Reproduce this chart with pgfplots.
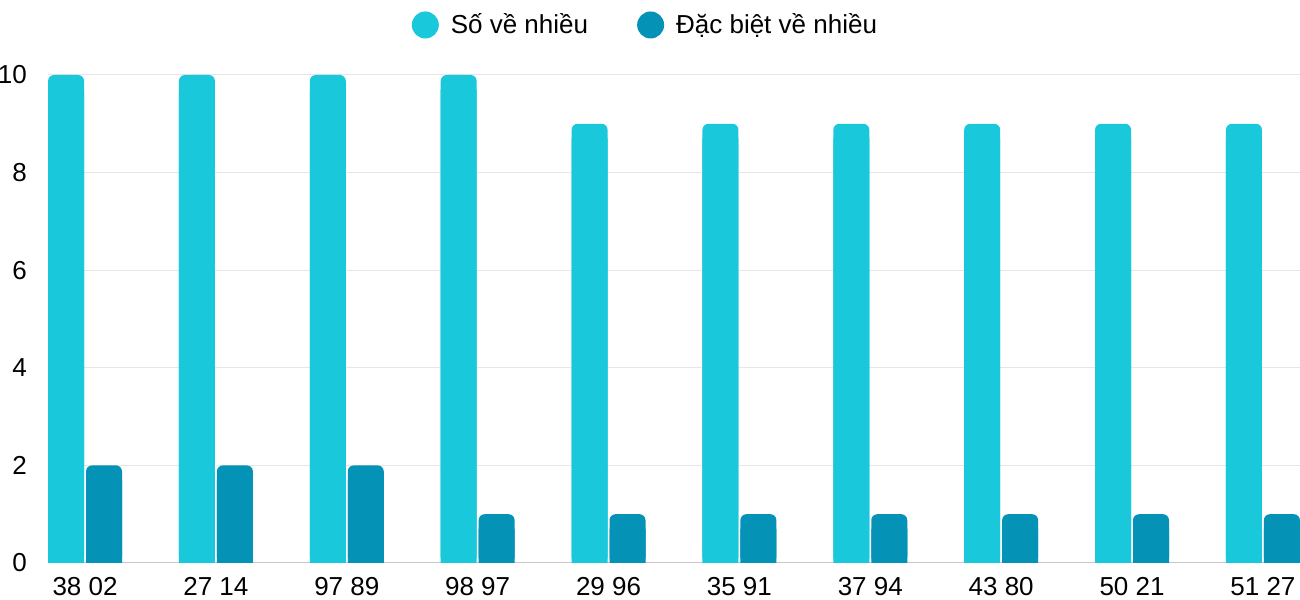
\documentclass[border=0pt]{standalone}
\usepackage{fontspec}
\setmainfont{Liberation Sans}
\usepackage{pgfplots}
\pgfplotsset{compat=1.18}
\usepackage{pgfplotstable}
\definecolor{cA}{HTML}{1AC8DB}
\definecolor{cB}{HTML}{0493B6}
\definecolor{gridc}{HTML}{E6E6E6}
\definecolor{basec}{HTML}{C8C8C8}
\pgfplotstableread{
x a b
0 10 2
1 10 2
2 10 2
3 10 1
4 9 1
5 9 1
6 9 1
7 9 1
8 9 1
9 9 1
}\datatable
\begin{document}
\begin{tikzpicture}[x=1bp,y=1bp]
\useasboundingbox (0,0) rectangle (1300,600);
\begin{axis}[
  at={(48bp,37bp)}, anchor=south west,
  width=1252bp, height=488bp, scale only axis,
  xmin=-0.283, xmax=9.283, ymin=0, ymax=10, clip=false,
  separate axis lines,
  axis x line*=bottom, axis y line*=left,
  y axis line style={draw=none},
  x axis line style={draw=basec, line width=1bp},
  major tick length=0pt,
  ymajorgrids, grid style={draw=gridc, line width=1bp},
  ytick={0,2,4,6,8,10},
  xtick={0,...,9},
  xticklabels={38 02,27 14,97 89,98 97,29 96,35 91,37 94,43 80,50 21,51 27},
  /pgf/number format/assume math mode=true,
  tick label style={font=\fontsize{26bp}{31bp}\selectfont, text=black},
  xticklabel style={anchor=base, inner sep=0pt, yshift=-33bp},
  yticklabel style={anchor=east, inner sep=0pt, xshift=-21bp},
  legend columns=2,
  legend style={draw=none, fill=none, font=\fontsize{26bp}{31bp}\selectfont,
    at={(0.4764,1.1025)}, anchor=center,
    nodes={inner sep=0pt},
    /tikz/every odd column/.append style={column sep=12bp},
    /tikz/every even column/.append style={column sep=49bp}},
  legend image code/.code={\fill[#1] (13.5bp,-1bp) circle (13.5bp);},
]
\addplot[ybar, bar width=0.275, bar shift=-0.145, fill=cA, draw=none, rounded corners=6bp] table[x=x,y=a]{\datatable};
\addlegendentry{Số về nhiều}
\addplot[ybar, bar width=0.275, bar shift=0.145, fill=cB, draw=none, rounded corners=6bp] table[x=x,y=b]{\datatable};
\addlegendentry{Đặc biệt về nhiều}
\addplot[ybar, bar width=0.275, bar shift=-0.145, fill=cA, draw=none, forget plot] table[x=x,y expr=\thisrow{a}-0.3]{\datatable};
\addplot[ybar, bar width=0.275, bar shift=0.145, fill=cB, draw=none, forget plot] table[x=x,y expr=\thisrow{b}-0.3]{\datatable};
\end{axis}
\end{tikzpicture}
\end{document}
